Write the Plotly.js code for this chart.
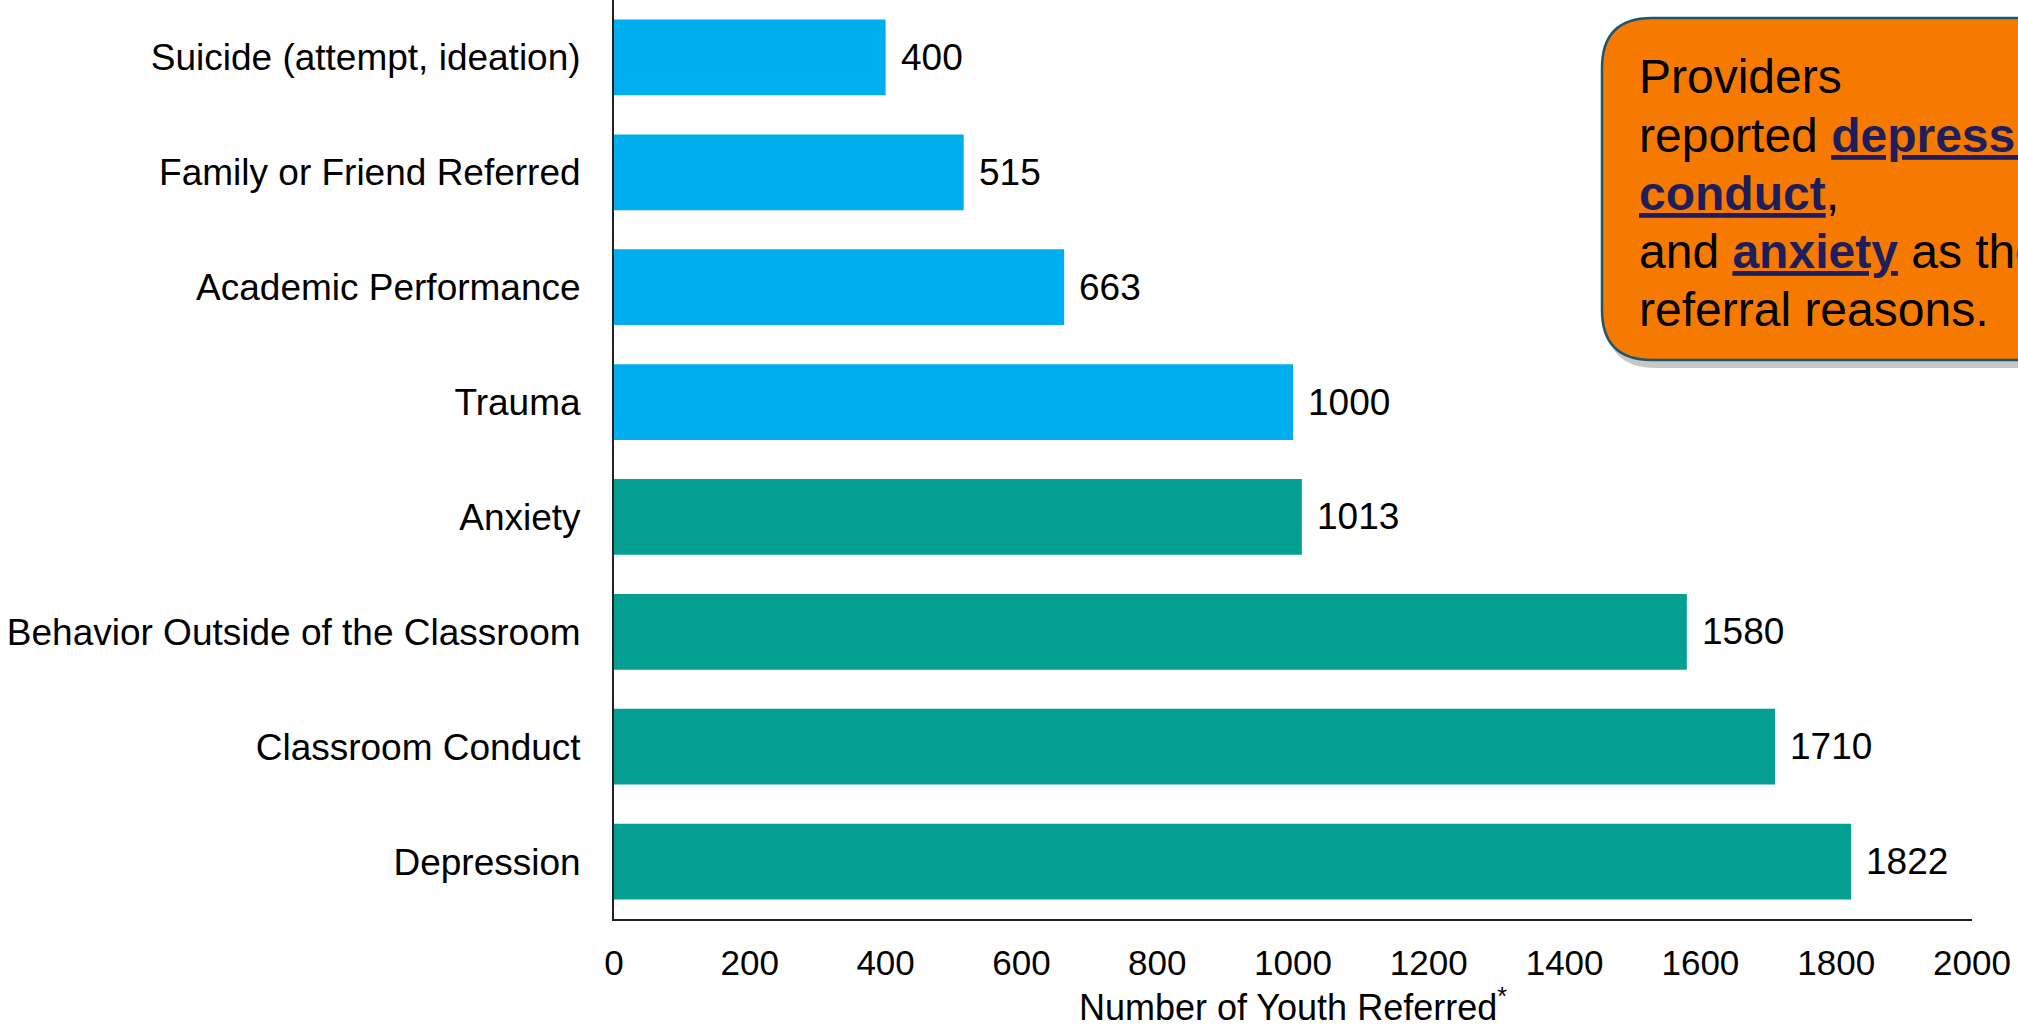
<!DOCTYPE html>
<html>
<head>
<meta charset="utf-8">
<script src="https://cdn.plot.ly/plotly-3.0.1.min.js"></script>
<style>html,body{margin:0;padding:0;background:#fff;overflow:hidden}#chart{width:2018px;height:1028px}</style>
</head>
<body>
<div id="chart"></div>
<script>
// Data (top to bottom as displayed)
const categories = ["Suicide (attempt, ideation)", "Family or Friend Referred", "Academic Performance", "Trauma", "Anxiety", "Behavior Outside of the Classroom", "Classroom Conduct", "Depression"];
const values = [400, 515, 663, 1000, 1013, 1580, 1710, 1822];
const groups = ["blue", "blue", "blue", "blue", "teal", "teal", "teal", "teal"];
const xTickVals = [0, 200, 400, 600, 800, 1000, 1200, 1400, 1600, 1800, 2000];
const xTitle = "Number of Youth Referred<sup>*</sup>";
const calloutLines = [
  "Providers",
  "reported <b><u>depression</u></b>, <b><u>classroom</u></b>",
  "<b><u>conduct</u></b>,",
  "and <b><u>anxiety</u></b> as the top",
  "referral reasons."
];

const colorMap = {blue: "#00AEEF", teal: "#06A093"};
const FONT = "Arial, 'Liberation Sans', sans-serif";

const W = 2018, H = 1028;
const mL = 614, mR = 46, mT = 0, mB = 109;
const pw = W - mL - mR, ph = H - mT - mB;
const px2x = p => (p - mL) / pw;
const py2y = p => (H - mB - p) / ph;

function roundedPath(L, T, R, B, r) {
  const P = (x, y) => px2x(x).toFixed(5) + "," + py2y(y).toFixed(5);
  return "M" + P(L + r, T) + " L" + P(R, T) + " L" + P(R, B) + " L" + P(L + r, B) +
    " Q" + P(L, B) + " " + P(L, B - r) + " L" + P(L, T + r) + " Q" + P(L, T) + " " + P(L + r, T) + " Z";
}

const trace = {
  type: "bar",
  orientation: "h",
  y: categories,
  x: values,
  marker: {color: groups.map(g => colorMap[g])},
  hoverinfo: "none"
};

const valueAnnotations = categories.map((c, i) => ({
  x: values[i], y: c, xref: "x", yref: "y",
  text: String(values[i]), showarrow: false,
  xanchor: "left", yanchor: "middle", xshift: 13,
  font: {family: FONT, size: 37, color: "#000"}
}));

const calloutAnnotations = calloutLines.map((t, i) => ({
  xref: "paper", yref: "paper", x: px2x(1637), y: py2y(77 + 58 * i),
  xanchor: "left", yanchor: "middle", align: "left", showarrow: false,
  text: t.replace(/<b>/g, "<b><span style='color:#1F1E5C'>").replace(/<\/b>/g, "</span></b>"),
  font: {family: FONT, size: 48, color: "#000"}
}));

const layout = {
  width: W, height: H,
  margin: {l: mL, r: mR, t: mT, b: mB, pad: 0},
  paper_bgcolor: "#fff", plot_bgcolor: "#fff",
  showlegend: false,
  bargap: 0.34,
  font: {family: FONT, color: "#000"},
  xaxis: {
    range: [0, 2000], tickvals: xTickVals, ticktext: xTickVals.map(String),
    showgrid: false, zeroline: false,
    showline: true, linecolor: "#222", linewidth: 2,
    ticks: "outside", ticklen: 12, tickcolor: "rgba(0,0,0,0)",
    tickfont: {family: FONT, size: 35, color: "#000"},
    title: {text: xTitle, font: {family: FONT, size: 36, color: "#000"}, standoff: 17},
    automargin: false, fixedrange: true
  },
  yaxis: {
    autorange: false, range: [7.5, -0.5], type: "category",
    showgrid: false, zeroline: false,
    showline: true, linecolor: "#222", linewidth: 2,
    ticks: "outside", ticklen: 24, tickcolor: "rgba(0,0,0,0)",
    tickfont: {family: FONT, size: 37, color: "#000"},
    automargin: false, fixedrange: true
  },
  shapes: [
    {type: "path", xref: "paper", yref: "paper", layer: "above",
     path: roundedPath(1606, 26, 2080, 368, 50), fillcolor: "rgba(0,0,0,0.22)", line: {width: 0}},
    {type: "path", xref: "paper", yref: "paper", layer: "above",
     path: roundedPath(1602, 18, 2080, 360, 50), fillcolor: "#F67A00", line: {color: "#1E5670", width: 2.5}}
  ],
  annotations: valueAnnotations.concat(calloutAnnotations)
};

Plotly.newPlot("chart", [trace], layout, {displayModeBar: false, staticPlot: true});
</script>
</body>
</html>
